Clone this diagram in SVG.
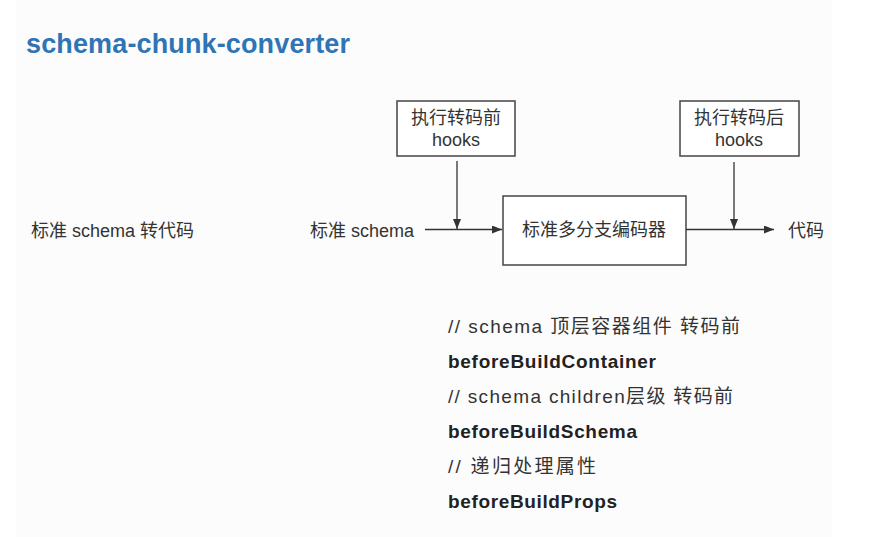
<svg xmlns="http://www.w3.org/2000/svg" width="874" height="537" viewBox="0 0 874 537">
<style>
.t{font-family:"Liberation Sans","Noto Sans CJK SC",sans-serif;font-size:18px;fill:#333}
.n{font-size:19px}
.c{text-anchor:middle}
.b{font-weight:bold;fill:#222}
.box{fill:#fff;stroke:#444;stroke-width:1.5}
.ln{stroke:#333;stroke-width:1.3;fill:none}
</style>
<defs>
<marker id="ah" viewBox="0 0 10 8" refX="10" refY="4" markerWidth="10" markerHeight="8" markerUnits="userSpaceOnUse" orient="auto">
<path d="M0,0 L10,4 L0,8 Z" fill="#333"/>
</marker>
</defs>
<rect width="874" height="537" fill="#fff"/>
<rect x="16" y="0" width="816" height="537" fill="#fcfcfc"/>
<text x="26" y="53" font-family="Liberation Sans,Arial,sans-serif" font-size="27" font-weight="bold" fill="#2f74b5" textLength="324" lengthAdjust="spacing">schema-chunk-converter</text>
<text class="t" x="31" y="237">标准 schema 转代码</text>
<g id="input"><text class="t" x="310" y="237">标准 schema</text></g>
<g id="before-hooks">
<rect class="box" x="397" y="101" width="118" height="55"/>
<text class="t c" x="456" y="124">执行转码前</text>
<text class="t c" x="456" y="146">hooks</text>
</g>
<g id="after-hooks">
<rect class="box" x="680" y="101" width="119" height="55"/>
<text class="t c" x="739" y="124">执行转码后</text>
<text class="t c" x="739" y="146">hooks</text>
</g>
<g id="encoder">
<rect class="box" x="503" y="196" width="183" height="69"/>
<text class="t c" x="594" y="236">标准多分支编码器</text>
</g>
<g id="output"><text class="t" x="788" y="237">代码</text></g>
<g id="connectors">
<line class="ln" x1="425" y1="229.5" x2="502" y2="229.5" marker-end="url(#ah)"/>
<line class="ln" x1="457" y1="161" x2="457" y2="229" marker-end="url(#ah)"/>
<line class="ln" x1="686" y1="229.5" x2="774" y2="229.5" marker-end="url(#ah)"/>
<line class="ln" x1="734" y1="162" x2="734" y2="229" marker-end="url(#ah)"/>
</g>
<g id="notes">
<text class="t n" x="448" y="333" textLength="292" lengthAdjust="spacing">// schema 顶层容器组件 转码前</text>
<text class="t n b" x="448" y="368" textLength="208" lengthAdjust="spacing">beforeBuildContainer</text>
<text class="t n" x="448" y="403" textLength="285" lengthAdjust="spacing">// schema children层级 转码前</text>
<text class="t n b" x="448" y="438" textLength="189" lengthAdjust="spacing">beforeBuildSchema</text>
<text class="t n" x="448" y="473" textLength="148" lengthAdjust="spacing">// 递归处理属性</text>
<text class="t n b" x="448" y="508" textLength="169" lengthAdjust="spacing">beforeBuildProps</text>
</g>
</svg>
